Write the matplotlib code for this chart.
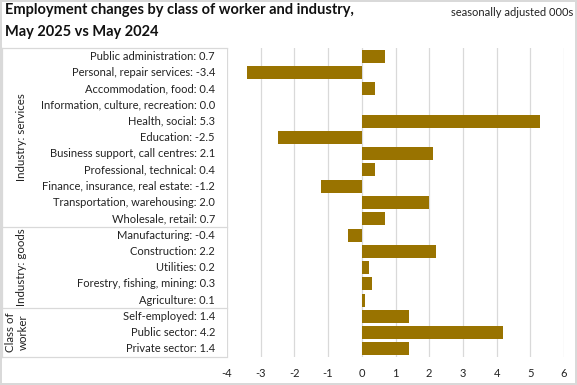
import matplotlib
matplotlib.use("Agg")
import matplotlib.pyplot as plt
import matplotlib.transforms as mtransforms
from matplotlib.lines import Line2D

plt.rcParams['font.family'] = ['Lato', 'DejaVu Sans']
plt.rcParams['axes.unicode_minus'] = False

# data, top to bottom as shown
categories = [
    'Public administration', 'Personal, repair services', 'Accommodation, food',
    'Information, culture, recreation', 'Health, social', 'Education',
    'Business support, call centres', 'Professional, technical',
    'Finance, insurance, real estate', 'Transportation, warehousing',
    'Wholesale, retail',
    'Manufacturing', 'Construction', 'Utilities', 'Forestry, fishing, mining',
    'Agriculture',
    'Self-employed', 'Public sector', 'Private sector',
]
values = [0.7, -3.4, 0.4, 0.0, 5.3, -2.5, 2.1, 0.4, -1.2, 2.0, 0.7,
          -0.4, 2.2, 0.2, 0.3, 0.1,
          1.4, 4.2, 1.4]
group_names = ['Industry: services', 'Industry: goods', 'Class of\nworker']
group_sizes = [11, 5, 3]
xticks = [-4, -3, -2, -1, 0, 1, 2, 3, 4, 5, 6]

bar_color = '#997300'
grid_color = '#d9d9d9'
text_color = '#222222'

W, H = 577, 385
fig = plt.figure(figsize=(W / 100, H / 100), dpi=100)
fig.patch.set_edgecolor(grid_color)
fig.patch.set_linewidth(1.5)

ax = fig.add_axes([227 / W, 1 - 357 / H, (564 - 227) / W, (357 - 48) / H])
ypos = list(range(len(categories)))
ax.barh(ypos, values, height=0.8, color=bar_color, zorder=3)
ax.set_xlim(-4, 6)
ax.set_ylim(len(categories) - 0.5, -0.5)
ax.set_xticks(xticks)
ax.set_xticklabels([str(t) for t in xticks], fontsize=8, color=text_color)
ax.set_yticks([])
ax.tick_params(axis='x', length=0, pad=8)
ax.grid(axis='x', color=grid_color, linewidth=0.9, zorder=0)
for s in ax.spines.values():
    s.set_visible(False)

# label table on the left
trans = mtransforms.blended_transform_factory(fig.transFigure, ax.transData)
for y, name, v in zip(ypos, categories, values):
    fig.text(215 / W, y, f'{name}: {v:.1f}', transform=trans, ha='right',
             va='center', fontsize=8, color=text_color)

x0, x1 = 1.5 / W, 227 / W
edges = [-0.5]
start = -0.5
for size in group_sizes:
    start += size
    edges.append(start)
for e in edges:
    fig.add_artist(Line2D([x0, x1], [e, e], transform=trans, color=grid_color, lw=0.9))
fig.add_artist(Line2D([x0, x0], [-0.5, len(categories) - 0.5], transform=trans,
                      color=grid_color, lw=0.9))

group_x = [22, 22, 17]
for i, (g, gx) in enumerate(zip(group_names, group_x)):
    mid = (edges[i] + edges[i + 1]) / 2
    fig.text(gx / W, mid, g, transform=trans, rotation=90, ha='center',
             va='center', fontsize=8.3, color=text_color, linespacing=1.2)

fig.text(5 / W, 1 - 3 / H,
         'Employment changes by class of worker and industry,\nMay 2025 vs May 2024',
         ha='left', va='top', fontsize=10.5, fontweight='bold', color='#111111',
         linespacing=1.75)
fig.text(573 / W, 1 - 12 / H, 'seasonally adjusted 000s', ha='right',
         va='center', fontsize=8, color=text_color)

fig.savefig('out.png', dpi=100, edgecolor=fig.get_edgecolor())
